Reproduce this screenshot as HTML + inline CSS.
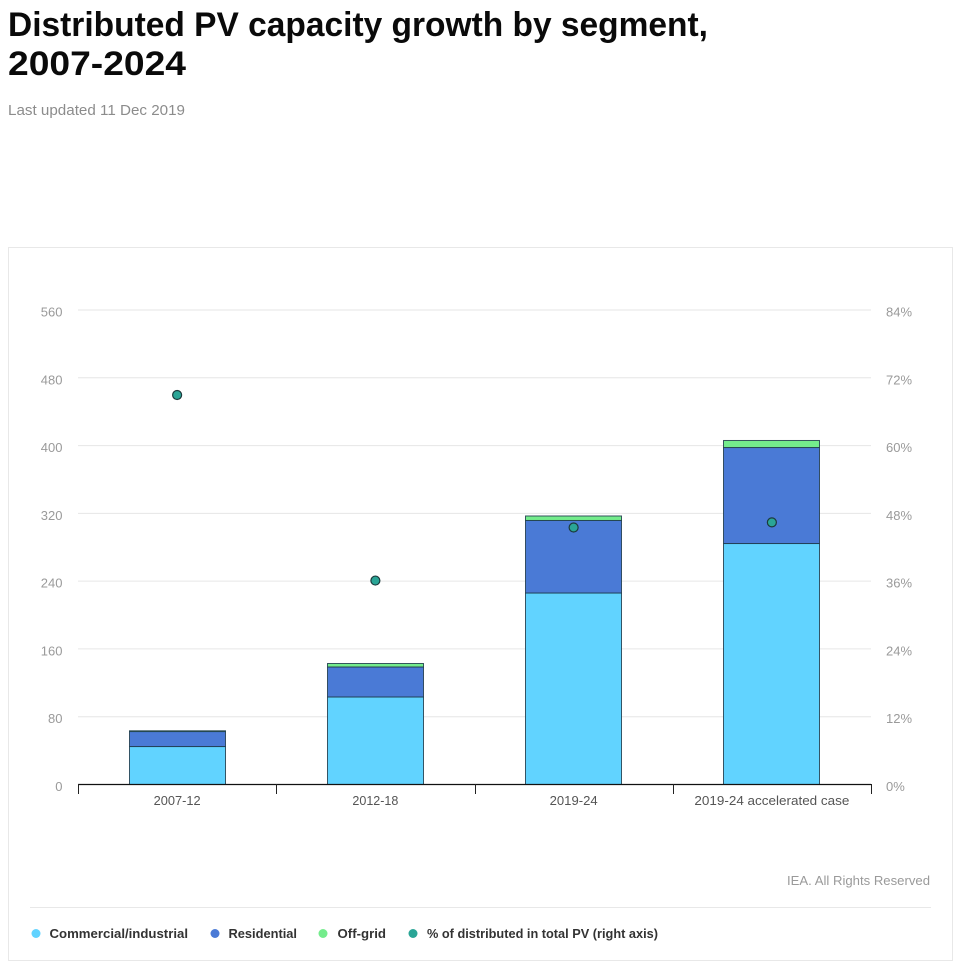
<!DOCTYPE html>
<html lang="en">
<head>
<meta charset="utf-8">
<title>Distributed PV capacity growth by segment, 2007-2024</title>
<style>
html,body{margin:0;padding:0;background:#fff;width:956px;height:966px;overflow:hidden}
svg{display:block;font-family:"Liberation Sans",sans-serif}
</style>
</head>
<body>
<svg id="chart" width="956" height="966" viewBox="0 0 956 966">
  <text x="8" y="36" font-size="34" font-weight="700" fill="#0a0a0a" textLength="700" lengthAdjust="spacingAndGlyphs">Distributed PV capacity growth by segment,</text>
  <text x="8" y="75" font-size="34" font-weight="700" fill="#0a0a0a" textLength="178" lengthAdjust="spacingAndGlyphs">2007-2024</text>
  <text x="8" y="115" font-size="15" fill="#8c8c8c" textLength="177" lengthAdjust="spacingAndGlyphs">Last updated 11 Dec 2019</text>
  <rect x="8.5" y="247.5" width="944" height="713" fill="#fff" stroke="#e8e8e8"/>
  <g id="plot"></g>
  <text x="930" y="885" text-anchor="end" font-size="13" fill="#9a9a9a" textLength="143" lengthAdjust="spacingAndGlyphs">IEA. All Rights Reserved</text>
  <line x1="30" x2="931" y1="907.5" y2="907.5" stroke="#e8e8e8"/>
  <g id="legend"></g>
</svg>
<script>
const categories = ['2007-12', '2012-18', '2019-24', '2019-24 accelerated case'];
const commercial = [44.8, 103.3, 226, 284.4];
const residential = [17.7, 35.4, 85.6, 113.3];
const offGrid = [0.9, 4.1, 5.3, 8.3];
const sharePercent = [68.95, 36.1, 45.5, 46.4];
const leftTicks = [0, 80, 160, 240, 320, 400, 480, 560];
const rightTicks = [0, 12, 24, 36, 48, 60, 72, 84];
const legendLabels = ['Commercial/industrial', 'Residential', 'Off-grid', '% of distributed in total PV (right axis)'];

const NS = 'http://www.w3.org/2000/svg';
const plot = document.getElementById('plot');
const legend = document.getElementById('legend');
const colors = { commercial: '#61d3ff', residential: '#4a7ad6', offGrid: '#74ec8c', share: '#2aa596' };
const left = 78, right = 871, base = 784.5, top560 = 310;
const yLeft = v => base - v / 560 * (base - top560);
const yRight = v => base - v / 84 * (base - top560);
const band = (right - left) / categories.length;
const xCenter = i => left + band * (i + 0.5);
const barW = 96;
const catLabelWidths = [47, 46, 48, 155];

function mk(tag, attrs, parent, text) {
  const el = document.createElementNS(NS, tag);
  for (const k in attrs) el.setAttribute(k, attrs[k]);
  if (text !== undefined) el.textContent = text;
  parent.appendChild(el);
  return el;
}

leftTicks.forEach((t, i) => {
  const y = yLeft(t);
  if (t !== 0) {
    const grid = mk('line', { x1: left, x2: right, y1: y, y2: y, stroke: '#e6e6e6', 'stroke-width': 1 }, plot);
    
    
  }
  const l = mk('text', { x: 62.5, y: y + 6.5, 'text-anchor': 'end', 'font-size': 13, fill: '#9a9a9a' }, plot, String(t));
  
  
  const r = mk('text', { x: 886, y: y + 6.5, 'font-size': 13, fill: '#9a9a9a' }, plot, rightTicks[i] + '%');
  
  
});

categories.forEach((c, i) => {
  const x = Math.floor(xCenter(i) - barW / 2) + 0.5;
  let acc = 0;
  [[commercial, colors.commercial, 'bar-commercial'], [residential, colors.residential, 'bar-residential'], [offGrid, colors.offGrid, 'bar-off-grid']].forEach(s => {
    const v = s[0][i];
    const yTop = yLeft(acc + v);
    const rect = mk('rect', { x: x, y: yTop, width: barW, height: yLeft(acc) - yTop, fill: s[1], stroke: '#1d3a4a', 'stroke-width': 1, 'stroke-opacity': 0.85 }, plot);
    
    
    acc += v;
  });
  const labelW = catLabelWidths[i];
  const label = mk('text', { x: xCenter(i) - labelW / 2, y: 805, 'font-size': 13, fill: '#555', textLength: labelW, lengthAdjust: 'spacingAndGlyphs' }, plot, c);
  
  
});

const axis = mk('line', { x1: left, x2: right, y1: 784.5, y2: 784.5, stroke: '#111', 'stroke-width': 1.3 }, plot);


for (let i = 0; i <= categories.length; i++) {
  const tx = Math.round(left + band * i) + 0.5;
  const tick = mk('line', { x1: tx, x2: tx, y1: 784, y2: 794, stroke: '#222', 'stroke-width': 1 }, plot);
  
  
}

sharePercent.forEach((v, i) => {
  const pt = mk('circle', { cx: xCenter(i), cy: yRight(v), r: 4.5, fill: colors.share, stroke: '#1c3a3c', 'stroke-width': 1.2 }, plot);
  
  
});

const legendColors = [colors.commercial, colors.residential, colors.offGrid, colors.share];
const legendDotX = [36, 215, 323, 413];
const legendTextX = [49.5, 228.5, 337.5, 427];
const legendTextW = [138.5, 68.5, 48.5, 231];
legendLabels.forEach((t, i) => {
  const dot = mk('circle', { cx: legendDotX[i], cy: 933.5, r: 4.5, fill: legendColors[i] }, legend);
  
  
  const label = mk('text', { x: legendTextX[i], y: 938, 'font-size': 13, 'font-weight': 700, fill: '#333', textLength: legendTextW[i], lengthAdjust: 'spacingAndGlyphs' }, legend, t);
  
  
});
</script>
</body>
</html>
